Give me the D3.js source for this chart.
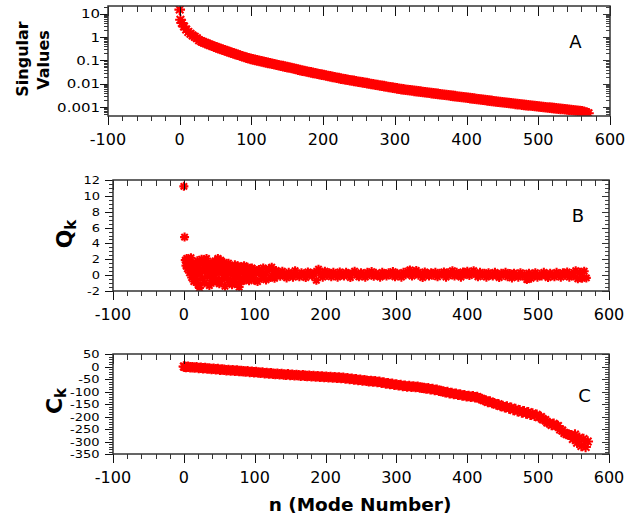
<!DOCTYPE html>
<html><head><meta charset="utf-8">
<script src="https://cdn.jsdelivr.net/npm/d3@7"></script>
<style>body{margin:0;background:#fff}svg{display:block}text{font-family:"DejaVu Sans",sans-serif;fill:#000}</style>
</head><body>
<script>
// ---------- DATA ----------
const modes = [0,1,3,6,9,12,15,18,21,24,27,30,33,36,39,42,45,48,51,54,57,60,63,66,69,72,75,78,81,84,87,90,93,96,99,
102,105,108,111,114,117,120,123,126,129,132,135,138,141,144,147,150,153,156,159,162,165,168,171,174,177,180,183,186,189,192,195,198,
201,204,207,210,213,216,219,222,225,228,231,234,237,240,243,246,249,252,255,258,261,264,267,270,273,276,279,282,285,288,291,294,297,300,
303,306,309,312,315,318,321,324,327,330,333,336,339,342,345,348,351,354,357,360,363,366,369,372,375,378,381,384,387,390,393,396,399,
402,405,408,411,414,417,420,423,426,429,432,435,438,441,444,447,450,453,456,459,462,465,468,471,474,477,480,483,486,489,492,495,498,
501,504,507,510,513,516,519,522,525,528,531,534,537,540,543,546,549,552,555,558,561,564,567,570];

const singularValues = [15,5.5,4.0,2.8,2.1,1.66,1.38,1.17,1.02,0.89,0.72,0.653,0.598,0.548,0.502,0.46,0.423,0.389,0.359,0.333,0.309,0.287,0.267,0.248,0.230,0.214,0.199,0.185,0.173,0.161,0.150,0.140,0.131,0.123,0.115,
0.110,0.1045,0.0995,0.0948,0.0904,0.0861,0.0820,0.0782,0.0745,0.0710,0.0676,0.0646,0.0617,0.0589,0.0562,0.0537,0.0513,0.0490,0.0468,0.0447,0.0427,0.0398,0.0380,0.0363,0.0347,0.0332,0.0318,0.0304,0.0291,0.0279,0.0267,0.0255,0.0244,
0.0234,0.0224,0.0214,0.0205,0.0196,0.0188,0.0180,0.0172,0.0165,0.0159,0.0153,0.0147,0.0141,0.0136,0.0131,0.0126,0.0121,0.0117,0.0113,0.0109,0.0105,0.0101,0.00973,0.00938,0.00904,0.00871,0.00839,0.00809,0.00780,0.00752,0.00724,0.00698,0.00673,0.00649,
0.00625,0.00603,0.00583,0.00566,0.00550,0.00535,0.00520,0.00506,0.00492,0.00479,0.00466,0.00453,0.00441,0.00429,0.00417,0.00406,0.00394,0.00384,0.00373,0.00363,0.00353,0.00344,0.00334,0.00325,0.00316,0.00308,0.00299,0.00291,0.00283,0.00275,0.00268,0.00261,0.00254,
0.00247,0.00240,0.00233,0.00227,0.00221,0.00215,0.00209,0.00203,0.00198,0.00192,0.00187,0.00182,0.00177,0.00172,0.00167,0.00163,0.00159,0.00155,0.00151,0.00147,0.00144,0.00140,0.00136,0.00133,0.00130,0.00126,0.00123,0.00120,0.00117,0.00115,0.00112,0.00110,0.00107,
0.00105,0.00102,0.00100,0.000977,0.000955,0.000933,0.000912,0.000891,0.000871,0.000851,0.000832,0.000813,0.000794,0.000776,0.000759,0.000741,0.000724,0.000708,0.000692,0.000668,0.000646,0.000617,0.000582,0.000537];

const ckValues = [0,-1,-2,-1,-3,-3,-4,-3,-6,-5,-7,-6,-8,
-8,-10,-9,-11,-10,-13,-12,-13,-15,-14,-16,-15,-17,-16,-18,-18,
-19,-20,-19,-22,-21,-23,-22,-24,-25,-24,-27,-26,-28,-27,-29,-30,
-29,-31,-30,-32,-33,-31,-34,-33,-35,-34,-35,-37,-35,-37,-38,
-37,-39,-38,-40,-39,-41,-40,-42,-41,-43,-42,-44,-43,-45,-44,-46,
-45,-48,-47,-50,-49,-52,-51,-54,-53,-56,-55,-57,-59,-58,-60,-59,
-62,-61,-65,-64,-68,-67,-70,-69,-73,-72,-75,
-74,-78,-77,-80,-78,-81,-80,-82,-81,-84,-85,-86,-88,-87,-91,-90,
-94,-93,-97,-98,-100,-103,-102,-107,-106,-110,-109,-113,-112,-116,-115,-119,
-118,-121,-119,-123,-122,-127,-130,-134,
-136,-142,-140,-146,-147,-152,-151,-158,
-158,-163,-160,-168,-165,-174,-170,-179,-175,-184,-179,-188,-183,-193,-188,
-197,-193,-203,-202,-212,-214,-224,-226,-234,-229,-238,-238,
-252,-256,-266,-270,-272,-275,-290,-272,-305,-285,-318,-290,-322,-300];

const qModes = [0,1,
2,3,4,5,6,7,8,9,10,11,12,13,14,15,16,17,18,19,20,21,22,23,24,25,26,27,28,29,30,31,32,33,34,35,36,37,38,39,40,41,42,43,44,45,46,47,48,49,50,
51,52,53,54,55,56,57,58,59,60,61,62,63,64,65,66,67,68,69,70,71,72,73,74,75,76,77,78,79,80,81,82,83,84,85,86,87,88,89,90,91,92,93,94,95,96,97,98,99,100,
102,104,106,108,110,112,114,116,118,120,122,124,126,128,130,
133,136,139,142,145,148,151,154,157,160,163,166,169,172,175,178,181,184,187,190,193,196,199,202,205,208,211,214,217,220,223,226,229,232,235,238,241,244,247,250,253,256,259,262,265,268,271,274,277,280,283,286,289,292,295,298,301,304,307,310,
313,316,319,322,325,328,331,334,337,340,343,346,349,352,355,358,361,364,367,370,373,376,379,382,385,388,391,394,397,400,403,406,409,412,415,418,421,424,427,430,433,436,439,442,445,448,451,454,457,460,463,466,469,472,475,478,481,484,487,490,
493,496,499,502,505,508,511,514,517,520,523,526,529,532,535,538,541,544,547,550,553,556,559,562,565,568];

const qkValues = [11.2,4.8,
1.9,1.2,2.1,0.8,1.5,1.7,0.3,1.0,2.2,-0.3,
0.6,1.4,-0.8,0.1,1.1,-0.5,0.4,1.8,-1.2,0.9,
-1.6,0.2,1.5,2.0,-0.4,0.7,1.9,-1.0,0.5,1.2,
2.1,-0.2,0.9,1.6,-1.3,0.3,1.0,-0.7,0.0,1.4,
-0.9,0.6,1.8,0.2,-0.5,1.1,2.1,1.5,-1.1,0.8,
1.9,0.4,-0.6,1.3,0.0,1.6,-1.4,0.7,1.2,-0.3,
0.5,1.5,-0.9,0.9,0.2,1.1,-1.2,0.4,0.8,-0.5,
1.3,0.1,-1.0,0.6,1.2,-0.2,-1.5,0.9,0.3,-0.8,
1.0,-0.4,0.5,1.2,-0.6,0.2,0.8,-0.3,1.0,0.1,
-0.7,0.6,0.3,-0.4,0.9,0.0,0.5,-0.6,0.7,
0.2,-0.8,0.7,0.3,-0.4,0.9,0.0,-0.6,0.5,0.8,-0.3,1.0,0.2,-0.4,0.6,
0.25,-0.15,0.5,0.0,-0.35,0.35,0.1,-0.25,0.55,0.1,
-0.2,0.3,0.05,-0.3,0.4,0.2,-0.1,0.35,-0.65,0.75,
0.25,-0.25,0.5,0.0,0.3,-0.2,0.35,0.1,-0.25,0.4,
0.05,-0.1,0.35,0.2,-0.3,0.25,0.5,0.0,-0.2,0.3,
0.1,-0.25,0.35,0.05,0.45,-0.15,0.25,0.0,-0.25,0.35,
0.2,-0.1,0.3,0.05,0.45,-0.2,0.25,0.1,-0.25,0.35,
0.05,0.5,0.65,-0.1,0.35,0.6,0.0,0.25,-0.3,0.4,
0.1,-0.1,0.3,0.0,0.35,-0.2,0.25,0.1,0.4,-0.25,
0.3,0.05,0.55,-0.1,0.35,0.2,-0.25,0.4,0.1,0.5,
-0.05,0.3,0.55,0.1,-0.2,0.35,0.0,0.25,-0.25,0.3,
0.05,-0.1,0.35,0.1,-0.3,0.25,0.0,0.35,-0.2,0.2,
-0.35,0.25,0.05,-0.25,0.3,-0.1,0.1,-0.55,0.25,-0.4,
0.05,0.3,-0.25,0.1,-0.1,0.35,0.0,-0.3,0.25,0.05,
-0.2,0.35,0.1,-0.25,0.3,0.0,0.4,-0.25,0.2,-0.1,
0.55,-0.45,0.35,-0.4,0.5,-0.35];

const xMajorTicks = [-100,0,100,200,300,400,500,600];
const xTickLabels = ["-100","0","100","200","300","400","500","600"];
const svMajorTicks = [10,1,0.1,0.01,0.001];
const svTickLabels = ["10","1","0.1","0.01","0.001"];
const qMajorTicks = [12,10,8,6,4,2,0,-2];
const cMajorTicks = [50,0,-50,-100,-150,-200,-250,-300,-350];
const panelLetters = ["A","B","C"];

if (modes.length!==singularValues.length || modes.length!==ckValues.length || qModes.length!==qkValues.length)
  throw new Error("length mismatch "+modes.length+" "+singularValues.length+" "+ckValues.length+" "+qModes.length+" "+qkValues.length);

// ---------- DRAW ----------
const svg = d3.select("body").append("svg").attr("width",642).attr("height",519);
function starPath(r){ const q=r*0.71;
  return `M0,${-r}V${r}M${-r},0H${r}M${-q},${-q}L${q},${q}M${-q},${q}L${q},${-q}`; }

function drawPanel(o){
  const xs=o.xs, ys=o.ys;
  const [L,R]=xs.range(); const B=ys.range()[0], T=ys.range()[1];
  svg.append("clipPath").attr("id",o.id).append("rect").attr("x",L).attr("y",T).attr("width",R-L).attr("height",B-T);
  const pts = o.xv.map((n,i)=>[n,o.yv[i]]);
  svg.append("g").attr("clip-path",`url(#${o.id})`)
    .selectAll("path").data(pts).join("path")
    .attr("d",starPath(o.r)).attr("transform",d=>`translate(${xs(d[0]).toFixed(2)},${ys(d[1]).toFixed(2)})`)
    .attr("fill","none").attr("stroke","#ff0000").attr("stroke-width",o.sw);

  const xMinor = xs.ticks(35).filter(v=>!xMajorTicks.includes(v));
  const axes = svg.append("g").attr("shape-rendering","crispEdges");
  function ax(gen,tx,ty,vals,size,color){
    const g=axes.append("g").attr("transform",`translate(${tx},${ty})`)
      .call(gen.tickValues(vals).tickSize(size).tickFormat(""));
    g.select(".domain").remove();
    g.selectAll("line").attr("stroke",color);
  }
  ax(d3.axisBottom(xs),0,B,xMajorTicks,9,"#111");
  ax(d3.axisBottom(xs),0,B,xMinor,5,"#333");
  ax(d3.axisBottom(xs),0,T,xMajorTicks,10,"#111");
  ax(d3.axisBottom(xs),0,T,xMinor,6,"#333");
  ax(d3.axisLeft(ys),L,0,o.yMajor,8,"#111");
  ax(d3.axisLeft(ys),L,0,o.yMinor,4,"#333");
  ax(d3.axisLeft(ys),R,0,o.yMajor,7,"#333");
  ax(d3.axisLeft(ys),R,0,o.yMinor,4,"#444");
  svg.append("rect").attr("x",L).attr("y",T).attr("width",R-L).attr("height",B-T)
    .attr("fill","none").attr("stroke","#333").attr("stroke-width",1.5);

  svg.append("g").selectAll("text").data(xMajorTicks).join("text")
    .attr("x",d=>xs(d)).attr("y",B+29).attr("text-anchor","middle")
    .style("font-size","16px").text((d,i)=>xTickLabels[i]);
  svg.append("g").selectAll("text").data(o.yMajor).join("text")
    .attr("transform",d=>`translate(${o.labelX},${ys(d)}) scale(1,${o.labelSY})`)
    .attr("dy","0.36em").attr("text-anchor","end")
    .style("font-size",o.labelSize+"px").text((d,i)=>o.yLabels[i]);
  svg.append("text").attr("x",o.letterX).attr("y",o.letterY).attr("text-anchor","middle")
    .style("font-size","18px").text(o.letter);
}

const xA = d3.scaleLinear().domain([-100,600]).range([108,610]);
const yA = d3.scaleLog().domain([0.00041,21.4]).range([116,6]);
drawPanel({id:"cA",xs:xA,ys:yA,xv:modes,yv:singularValues,yMajor:svMajorTicks,r:5.3,sw:2.1,
  yMinor:yA.ticks().filter(v=>!svMajorTicks.some(m=>Math.abs(m-v)/m<1e-6)),
  yLabels:svTickLabels,labelX:100,labelSY:0.85,labelSize:15,letter:panelLetters[0],letterX:575.5,letterY:48});

const xB = d3.scaleLinear().domain([-100,600]).range([113,609]);
const yB = d3.scaleLinear().domain([-2,12]).range([291,180]);
drawPanel({id:"cB",xs:xB,ys:yB,xv:qModes,yv:qkValues,yMajor:qMajorTicks,r:4.5,sw:2.1,
  yMinor:yB.ticks(28).filter(v=>!qMajorTicks.includes(v)),
  yLabels:qMajorTicks.map(String),labelX:100,labelSY:0.85,labelSize:13,letter:panelLetters[1],letterX:578,letterY:221.5});

const xC = d3.scaleLinear().domain([-100,600]).range([113,609]);
const yC = d3.scaleLinear().domain([-350,50]).range([454,354]);
drawPanel({id:"cC",xs:xC,ys:yC,xv:modes,yv:ckValues,yMajor:cMajorTicks,r:5.3,sw:2.1,
  yMinor:yC.ticks(40).filter(v=>!cMajorTicks.includes(v)),
  yLabels:cMajorTicks.map(String),labelX:99.5,labelSY:0.87,labelSize:13,letter:panelLetters[2],letterX:584.5,letterY:401.5});

svg.append("text").attr("transform","translate(28,59) rotate(-90)").attr("text-anchor","middle")
  .style("font-size","16px").style("font-weight","bold").text("Singular");
svg.append("text").attr("transform","translate(48.5,60) rotate(-90)").attr("text-anchor","middle")
  .style("font-size","16px").style("font-weight","bold").text("Values");

function subLabel(main,x,y){
  const t=svg.append("text").attr("transform",`translate(${x},${y}) rotate(-90)`).attr("text-anchor","middle")
    .style("font-weight","bold").style("font-size","22px");
  t.append("tspan").text(main);
  t.append("tspan").attr("dy",4).style("font-size","15px").text("k");
}
subLabel("Q",72,234);
subLabel("C",61.5,401);

svg.append("text").attr("x",360).attr("y",511).attr("text-anchor","middle")
  .style("font-size","18.5px").style("font-weight","bold").text("n (Mode Number)");
</script>
</body></html>
